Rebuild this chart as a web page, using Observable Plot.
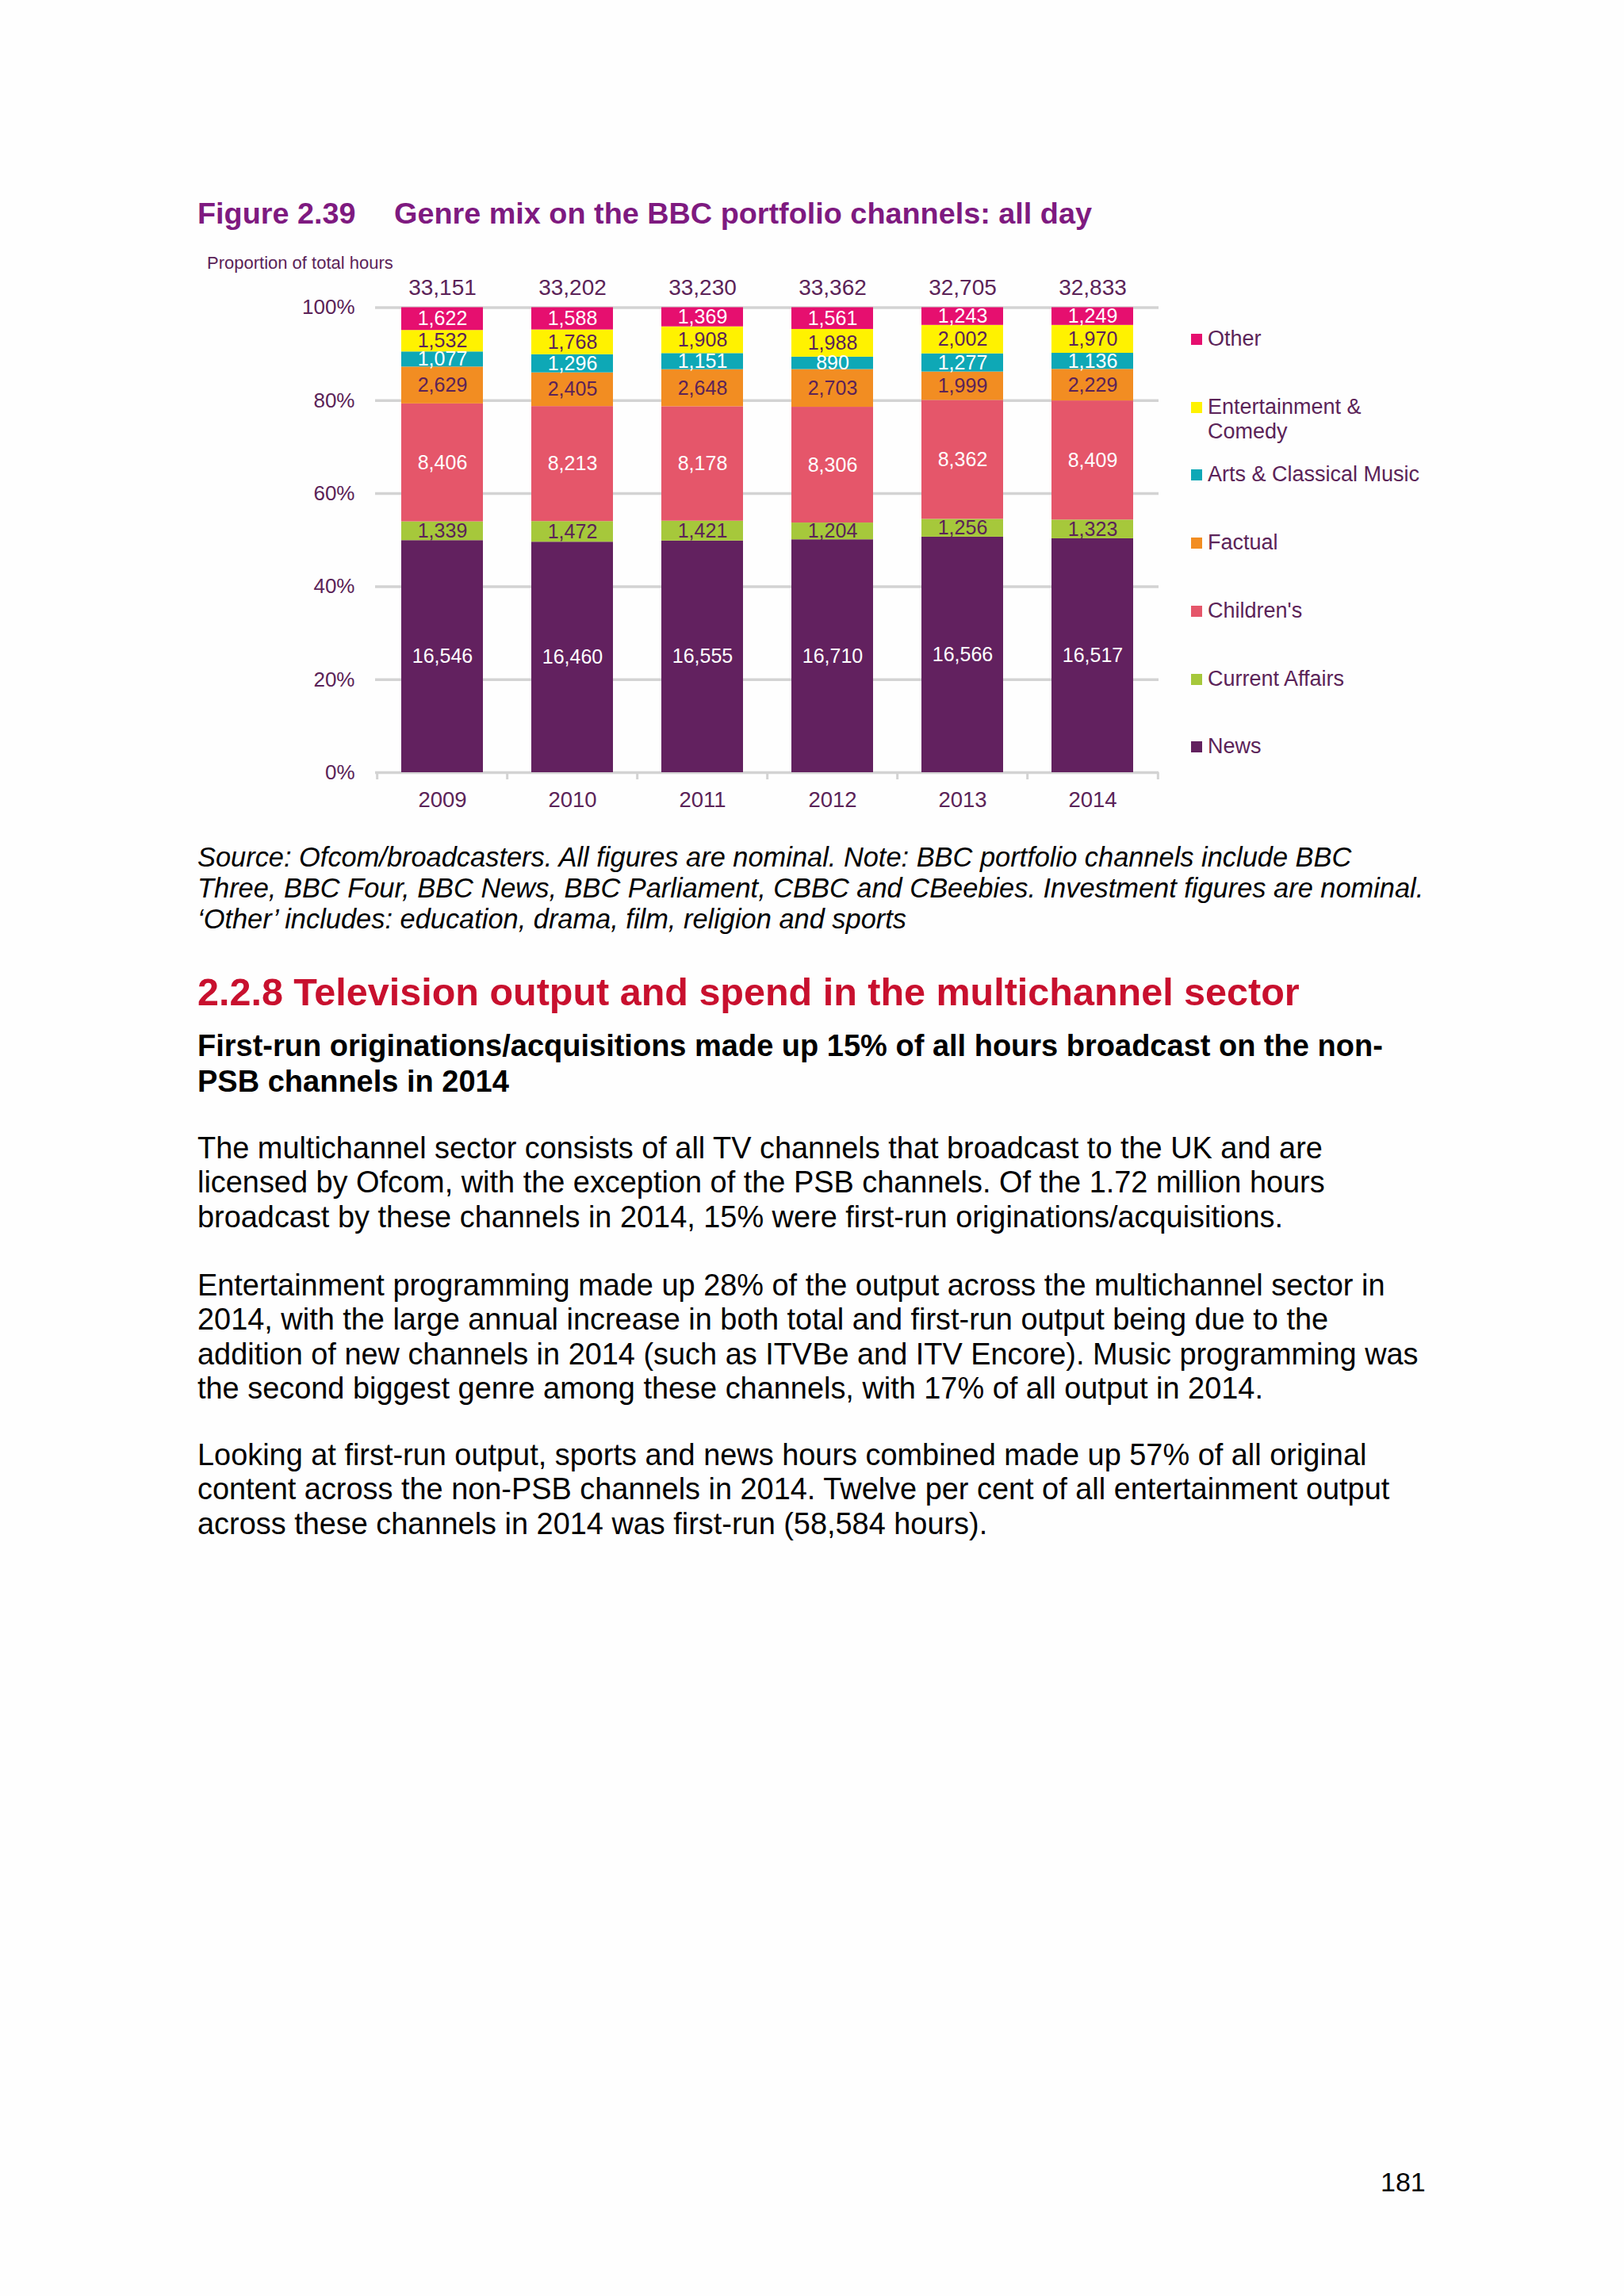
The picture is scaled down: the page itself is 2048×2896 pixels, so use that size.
<!DOCTYPE html>
<html>
<head>
<meta charset="utf-8">
<script src="https://cdn.jsdelivr.net/npm/d3@7"></script>
<script src="https://cdn.jsdelivr.net/npm/@observablehq/plot@0.6"></script>
<style>
  html, body { margin: 0; padding: 0; }
  body { width: 2048px; height: 2896px; background: #fefefe; position: relative; font-family: "Liberation Sans", Arial, sans-serif; overflow: hidden; }
  .abs { position: absolute; white-space: nowrap; }
  .title { font-weight: bold; font-size: 37.8px; line-height: 40px; color: #7e1a80; }
  .ylab { font-size: 22px; line-height: 24px; color: #5b2358; }
  .source { font-style: italic; font-size: 34.4px; line-height: 39px; color: #000; }
  .h2 { font-weight: bold; font-size: 48.5px; line-height: 44px; color: #c8102e; }
  .sub { font-weight: bold; font-size: 38px; line-height: 45px; color: #000; }
  .body { font-size: 37.9px; line-height: 43.3px; color: #000; }
  .leg { position: absolute; font-size: 27px; line-height: 30.5px; color: #5b2358; white-space: nowrap; }
  .sw { position: absolute; width: 14px; height: 14px; }
  #chart { position: absolute; left: 240px; top: 300px; }
</style>
</head>
<body>
<div class="abs title" style="left:249px; top:249px;">Figure 2.39</div>
<div class="abs title" style="left:497px; top:249px;">Genre mix on the BBC portfolio channels: all day</div>
<div class="abs ylab" style="left:261px; top:320px;">Proportion of total hours</div>
<div id="chart"></div>
<div id="legend"></div>

<div class="abs source" style="left:249px; top:1062px;">Source: Ofcom/broadcasters. All figures are nominal. Note: BBC portfolio channels include BBC<br>Three, BBC Four, BBC News, BBC Parliament, CBBC and CBeebies. Investment figures are nominal.<br>‘Other’ includes: education, drama, film, religion and sports</div>

<div class="abs h2" style="left:249px; top:1229px;">2.2.8 Television output and spend in the multichannel sector</div>

<div class="abs sub" style="left:249px; top:1297px;">First-run originations/acquisitions made up 15% of all hours broadcast on the non-<br>PSB channels in 2014</div>

<div class="abs body" style="left:249px; top:1427px;">The multichannel sector consists of all TV channels that broadcast to the UK and are<br>licensed by Ofcom, with the exception of the PSB channels. Of the 1.72 million hours<br>broadcast by these channels in 2014, 15% were first-run originations/acquisitions.</div>

<div class="abs body" style="left:249px; top:1600px;">Entertainment programming made up 28% of the output across the multichannel sector in<br>2014, with the large annual increase in both total and first-run output being due to the<br>addition of new channels in 2014 (such as ITVBe and ITV Encore). Music programming was<br>the second biggest genre among these channels, with 17% of all output in 2014.</div>

<div class="abs body" style="left:249px; top:1814px;">Looking at first-run output, sports and news hours combined made up 57% of all original<br>content across the non-PSB channels in 2014. Twelve per cent of all entertainment output<br>across these channels in 2014 was first-run (58,584 hours).</div>

<div class="abs body" style="left:1741px; top:2731px; font-size:34px;">181</div>

<script>
// ---- Data (hours) ----
const years = ["2009", "2010", "2011", "2012", "2013", "2014"];
const genres = ["News", "Current Affairs", "Children's", "Factual", "Arts & Classical Music", "Entertainment & Comedy", "Other"];
const news           = [16546, 16460, 16555, 16710, 16566, 16517];
const currentAffairs = [1339, 1472, 1421, 1204, 1256, 1323];
const childrens      = [8406, 8213, 8178, 8306, 8362, 8409];
const factual        = [2629, 2405, 2648, 2703, 1999, 2229];
const arts           = [1077, 1296, 1151, 890, 1277, 1136];
const entertainment  = [1532, 1768, 1908, 1988, 2002, 1970];
const other          = [1622, 1588, 1369, 1561, 1243, 1249];
const totals         = [33151, 33202, 33230, 33362, 32705, 32833];
const yTicks = [0, 0.2, 0.4, 0.6, 0.8, 1];

// ---- Styles ----
const genreColors = ["#62215f", "#a6c83b", "#e5566a", "#f28d22", "#0ea8b6", "#fff200", "#e60f6f"];
const labelColors = ["#ffffff", "#5b2358", "#ffffff", "#5b2358", "#ffffff", "#5b2358", "#ffffff"];
const purple = "#5b2358";

const series = [news, currentAffairs, childrens, factual, arts, entertainment, other];
const rows = [];
genres.forEach((g, gi) => years.forEach((y, yi) => rows.push({year: y, genre: g, value: series[gi][yi]})));
const colorOf = Object.fromEntries(genres.map((g, i) => [g, genreColors[i]]));
const labelOf = Object.fromEntries(genres.map((g, i) => [g, labelColors[i]]));

const W = 1260, H = 740, ML = 233, MR = 39, MT = 87.5, MB = 66;
const step = (W - ML - MR) / years.length;
const fmt = d3.format(",");

const plot = Plot.plot({
  width: W, height: H,
  marginLeft: ML, marginRight: MR, marginTop: MT, marginBottom: MB,
  style: {fontFamily: "Liberation Sans, Arial, sans-serif", fontSize: "26px", color: purple, background: "transparent", overflow: "visible"},
  x: {domain: years, paddingInner: 0.375, paddingOuter: 0.1875, label: null},
  y: {domain: [0, 1], label: null},
  color: {type: "identity"},
  marks: [
    Plot.ruleY(yTicks, {stroke: "#d3d3d3", strokeWidth: 3.5}),
    Plot.ruleX(years, {x: d => d, y1: 0, y2: 0, insetBottom: -9, dx: -step / 2, stroke: "#d3d3d3", strokeWidth: 3}),
    Plot.ruleX(years.slice(-1), {x: d => d, y1: 0, y2: 0, insetBottom: -9, dx: step / 2, stroke: "#d3d3d3", strokeWidth: 3}),
    Plot.barY(rows, {x: "year", y: "value", z: "genre", fill: d => colorOf[d.genre], offset: "normalize"}),
    Plot.text(rows, Plot.stackY({x: "year", y: "value", z: "genre", offset: "normalize", text: d => fmt(d.value), fill: d => labelOf[d.genre], fontSize: 25})),
    Plot.text(years, {x: d => d, text: (d, i) => fmt(totals[i]), frameAnchor: "top", dy: -36, fill: purple, fontSize: 28}),
    Plot.axisX({tickSize: 0, tickPadding: 24, fontSize: 27.5, fill: purple}),
    Plot.axisY({ticks: yTicks, tickFormat: d3.format(".0%"), tickSize: 0, tickPadding: 26, fontSize: 26, fill: purple})
  ]
});
document.getElementById("chart").appendChild(plot);

// ---- Legend (top entry first) ----
const legendItems = [
  {g: "Other", lines: ["Other"], cy: 428},
  {g: "Entertainment & Comedy", lines: ["Entertainment &", "Comedy"], cy: 514},
  {g: "Arts & Classical Music", lines: ["Arts & Classical Music"], cy: 599},
  {g: "Factual", lines: ["Factual"], cy: 685},
  {g: "Children's", lines: ["Children's"], cy: 771},
  {g: "Current Affairs", lines: ["Current Affairs"], cy: 857},
  {g: "News", lines: ["News"], cy: 942}
];
const leg = document.getElementById("legend");
legendItems.forEach(it => {
  const sw = document.createElement("div");
  sw.className = "sw";
  sw.style.left = "1502px";
  sw.style.top = (it.cy - 7) + "px";
  sw.style.background = colorOf[it.g];
  leg.appendChild(sw);
  const t = document.createElement("div");
  t.className = "leg";
  t.style.left = "1523px";
  t.style.top = (it.cy - 16) + "px";
  t.innerHTML = it.lines.map(s => s.replace(/&/g, "&amp;")).join("<br>");
  leg.appendChild(t);
});
</script>
</body>
</html>
